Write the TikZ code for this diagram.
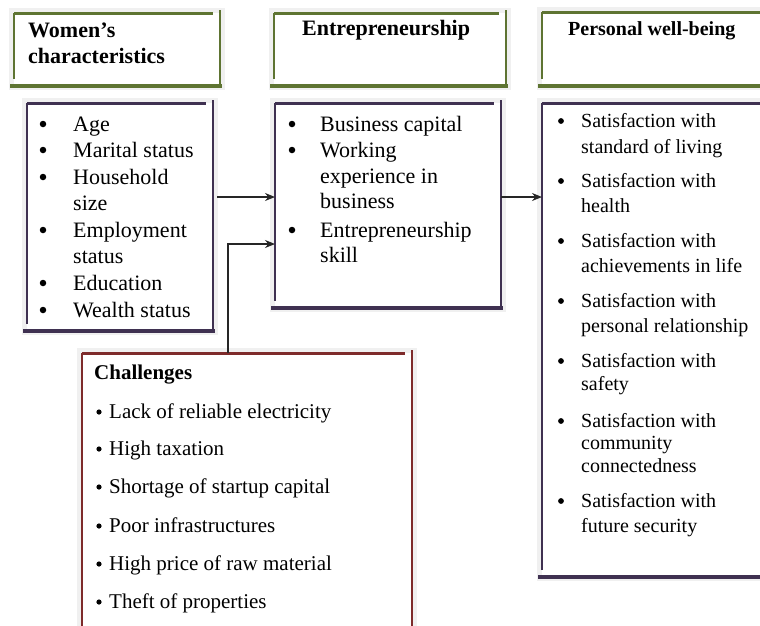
\documentclass[tikz,border=0pt]{standalone}
\usepackage{fontspec}
\setmainfont{Liberation Serif}
\usetikzlibrary{arrows.meta}
\definecolor{olivebd}{HTML}{5E7432}
\definecolor{plumbd}{HTML}{3F3151}
\definecolor{redbd}{HTML}{7E2B2B}
\definecolor{panelshade}{HTML}{F0F0F0}

% A framed panel: name, left, top, right, bottom, border colour
\newcommand\panel[6]{%
  \fill[panelshade] (#2-5,#3-5) rectangle (#4+5,#5+4);
  \fill[white] (#2,#3) rectangle (#4,#5);
  \node[inner sep=0pt,outer sep=0pt,minimum width={#4-#2},minimum height={#5-#3}]
    (#1) at ({(#2+#4)/2},{(#3+#5)/2}) {};
  \draw[#6,line width=3pt] (#2,#3) -- (#4-7,#3);
  \draw[#6,line width=2pt] (#2,#3) -- (#2,#5-7);
  \draw[#6,line width=2pt] (#4,#3-3) -- (#4,#5);
  \draw[#6,line width=4pt] (#2-4,#5) -- (#4+2,#5);
}

\tikzset{
  headtext/.style={inner sep=0pt,anchor=base west,font=\bfseries\fontsize{22}{26}\selectfont},
  itemtext/.style={inner sep=0pt,anchor=base west,font=\fontsize{22}{26}\selectfont},
  smalltext/.style={inner sep=0pt,anchor=base west,font=\fontsize{20}{24}\selectfont},
  dot/.style={circle,fill=black,inner sep=0pt,minimum size=6.5pt},
  smalldot/.style={dot,minimum size=5.2pt},
  flow/.style={line width=1.3pt,draw=black!85,-{Stealth[length=10pt,width=8pt]}},
}

\begin{document}
\begin{tikzpicture}[x=1pt,y=-1pt]
\useasboundingbox (0,0) rectangle (760,625);
\clip (0,0) rectangle (760,625);

% header panels
\panel{whead}{14}{13}{220}{86}{olivebd}
\panel{ehead}{274}{13}{506}{86}{olivebd}
\panel{phead}{542}{12}{790}{86}{olivebd}

% list panels
\panel{wlist}{27}{103}{213}{331}{plumbd}
\panel{elist}{275}{103}{501}{308}{plumbd}
\panel{plist}{542}{103}{790}{577}{plumbd}
\panel{chal}{82}{353}{412}{660}{redbd}

% header titles
\node[headtext] (wt1) at (28,37) {Women’s};
\node[headtext] (wt2) at (28,63) {characteristics};
\node[headtext] (et) at (302,35) {Entrepreneurship};
\node[headtext,font=\bfseries\fontsize{20}{24}\selectfont] (pt) at (568,35) {Personal well-being};

% women's characteristics
\foreach \n/\yy/\t in {1/131/Age,2/157/Marital status,3/184/Household,4/210/size,
    5/237/Employment,6/263/status,7/290/Education,8/317/Wealth status}
  \node[itemtext] (w\n) at (73,\yy) {\t};
\foreach \n/\yy in {1/131,2/157,3/184,5/237,7/290,8/317}
  \node[dot] (wb\n) at (43,\yy-7) {};

% entrepreneurship
\foreach \n/\yy/\t in {1/131/Business capital,2/157/Working,3/183/experience in,
    4/208/business,5/237/Entrepreneurship,6/262/skill}
  \node[itemtext] (e\n) at (320,\yy) {\t};
\foreach \n/\yy in {1/131,2/157,5/237}
  \node[dot] (eb\n) at (292,\yy-7) {};

% personal well-being
\foreach \n/\yy/\t in {1/127/Satisfaction with,2/153/standard of living,
    3/187/Satisfaction with,4/212/health,
    5/247/Satisfaction with,6/272/achievements in life,
    7/307/Satisfaction with,8/332/personal relationship,
    9/367/Satisfaction with,10/390/safety,
    11/427/Satisfaction with,12/449/community,13/472/connectedness,
    14/507/Satisfaction with,15/532/future security}
  \node[smalltext] (p\n) at (581,\yy) {\t};
\foreach \n/\yy in {1/127,3/187,5/247,7/307,9/367,11/427,14/507}
  \node[dot,minimum size=5.8pt] (pb\n) at (561,\yy-6) {};

% challenges
\node[headtext,font=\bfseries\fontsize{21}{25}\selectfont] (ct) at (94,379) {Challenges};
\foreach \n/\yy/\t in {1/418/Lack of reliable electricity,2/455/High taxation,
    3/493/Shortage of startup capital,4/532/Poor infrastructures,
    5/570/High price of raw material,6/608/Theft of properties}
  \node[itemtext,font=\fontsize{21}{25}\selectfont] (c\n) at (109,\yy) {\t};
\foreach \n/\yy in {1/418,2/455,3/493,4/532,5/570,6/608}
  \node[smalldot] (cb\n) at (99,\yy-6) {};

% connectors
\coordinate (rowA) at (0,197);
\coordinate (rowB) at (0,244);
\coordinate (riser) at (228,0);
\draw[flow] ([xshift=4pt]wlist.east |- rowA) -- (elist.west |- rowA);
\draw[flow] (chal.north -| riser) |- (elist.west |- rowB);
\draw[flow] (elist.east |- rowA) -- (plist.west |- rowA);
\end{tikzpicture}
\end{document}
